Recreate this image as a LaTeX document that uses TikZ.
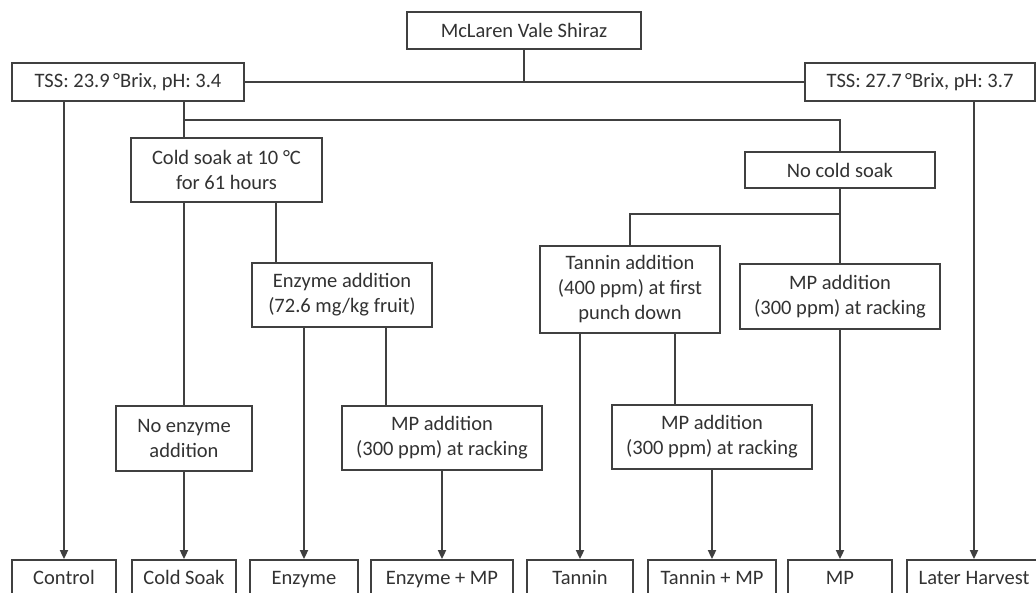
\documentclass[tikz,border=0pt]{standalone}
\usepackage{fontspec}
\setmainfont{Carlito}
\usetikzlibrary{arrows.meta}
\definecolor{ink}{RGB}{50,50,50}
\definecolor{edgec}{RGB}{64,64,64}
\begin{document}
\begin{tikzpicture}[x=1pt,y=-1pt,
  box/.style={draw=edgec, line width=1.8pt, fill=white, text=ink, align=center, inner sep=0pt,
    font=\fontsize{20.5}{25}\selectfont},
  link/.style={draw=edgec, line width=1.8pt},
  arr/.style={link, -{Triangle[length=9pt,width=8pt]}},
  fin/.style={box, text height=14pt, text depth=5pt, minimum height=39pt}
]
\useasboundingbox (0,0) rectangle (1036,593);
\clip (0,0) rectangle (1036,593);
% boxes
\node[box, minimum width=234pt, minimum height=37pt] (root) at (524,30.5) {McLaren Vale Shiraz};
\node[box, minimum width=232pt, minimum height=38pt] (tssL) at (128,82) {TSS: 23.9\,°Brix, pH: 3.4};
\node[box, minimum width=230pt, minimum height=38pt] (tssR) at (920,82) {TSS: 27.7\,°Brix, pH: 3.7};
\node[box, minimum width=191pt, minimum height=64pt] (cold) at (226.5,170) {Cold soak at 10 °C\\for 61 hours};
\node[box, minimum width=190pt, minimum height=36pt] (nocold) at (840,170) {No cold soak};
\node[box, minimum width=180pt, minimum height=64pt] (enz) at (342,295) {Enzyme addition\\(72.6 mg/kg fruit)};
\node[box, minimum width=136pt, minimum height=65pt] (noenz) at (184,438.5) {No enzyme\\addition};
\node[box, minimum width=200pt, minimum height=64pt] (mpE) at (442,438) {MP addition\\(300 ppm) at racking};
\node[box, minimum width=180pt, minimum height=87pt] (tan) at (630,289.5) {Tannin addition\\(400 ppm) at first\\punch down};
\node[box, minimum width=200pt, minimum height=65pt] (mpN) at (840,296.5) {MP addition\\(300 ppm) at racking};
\node[box, minimum width=200pt, minimum height=64pt] (mpT) at (712,437) {MP addition\\(300 ppm) at racking};
% final boxes
\node[fin, minimum width=104pt] (fCtrl) at (64,579.5) {Control};
\node[fin, minimum width=104pt] (fCold) at (184,579.5) {Cold Soak};
\node[fin, minimum width=108pt] (fEnz) at (304,579.5) {Enzyme};
\node[fin, minimum width=142pt] (fEnzMP) at (442,579.5) {Enzyme + MP};
\node[fin, minimum width=106pt] (fTan) at (580,579.5) {Tannin};
\node[fin, minimum width=128pt] (fTanMP) at (712,579.5) {Tannin + MP};
\node[fin, minimum width=104pt] (fMP) at (840,579.5) {MP};
\node[fin, minimum width=134pt] (fLate) at (974,579.5) {Later Harvest};
% junction coordinates
\coordinate (jA) at (184,120);
\coordinate (sCE) at (276,0);
\coordinate (sEM) at (386,0);
\coordinate (jT) at (630,214);
\coordinate (sTM) at (675,0);
% connectors
\draw[link] (tssL.east) -- (tssR.west);
\draw[link] (root.south) -- (root.south |- tssL.east);
\draw[arr] (fCtrl.north |- tssL.south) -- (fCtrl.north);
\draw[link] (jA |- tssL.south) -- (jA) -- (jA -| nocold.north) -- (nocold.north);
\draw[link] (jA) -- (jA |- cold.north);
\draw[link] (noenz.north |- cold.south) -- (noenz.north);
\draw[link] (sCE |- cold.south) -- (sCE |- enz.north);
\draw[arr] (fEnz.north |- enz.south) -- (fEnz.north);
\draw[link] (sEM |- enz.south) -- (sEM |- mpE.north);
\draw[arr] (noenz.south) -- (fCold.north);
\draw[arr] (mpE.south) -- (fEnzMP.north);
\draw[link] (nocold.south) -- (mpN.north);
\draw[link] (jT -| nocold.south) -- (jT) -- (tan.north);
\draw[arr] (fTan.north |- tan.south) -- (fTan.north);
\draw[link] (sTM |- tan.south) -- (sTM |- mpT.north);
\draw[arr] (mpT.south) -- (fTanMP.north);
\draw[arr] (mpN.south) -- (fMP.north);
\draw[arr] (fLate.north |- tssR.south) -- (fLate.north);
\end{tikzpicture}
\end{document}
